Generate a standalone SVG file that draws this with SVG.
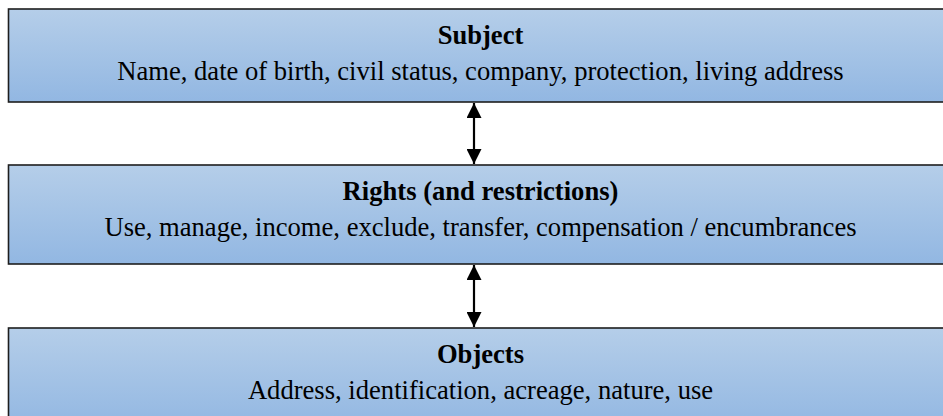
<svg xmlns="http://www.w3.org/2000/svg" width="943" height="416" viewBox="0 0 943 416">
  <defs>
    <linearGradient id="fill" x1="0" y1="0" x2="0" y2="1">
      <stop offset="0" stop-color="#b5cee9"/>
      <stop offset="1" stop-color="#92b7e2"/>
    </linearGradient>
    <marker id="ah" viewBox="0 0 16 15" refX="15" refY="7.5" markerWidth="16" markerHeight="15" markerUnits="userSpaceOnUse" orient="auto-start-reverse">
      <path d="M0,0 L15,7.5 L0,15 Z" fill="#000"/>
    </marker>
    <style>
      .box { fill: url(#fill); stroke: #1e1e1e; stroke-width: 1.6; }
      .t { font-family: "Liberation Serif", "Times New Roman", serif; font-size: 26.6px; fill: #000; text-anchor: middle; }
      .b { font-weight: bold; }
      .conn { stroke: #000; stroke-width: 2.2; fill: none; }
    </style>
  </defs>
  <rect width="943" height="416" fill="#fff"/>
  <g id="subject">
    <rect class="box" x="8.5" y="9" width="945" height="93"/>
    <text class="t b" x="480.5" y="44">Subject</text>
    <text class="t" x="480.5" y="80">Name, date of birth, civil status, company, protection, living address</text>
  </g>
  <g id="rights">
    <rect class="box" x="8.5" y="165" width="945" height="99"/>
    <text class="t b" x="480.5" y="200">Rights (and restrictions)</text>
    <text class="t" x="480.5" y="236">Use, manage, income, exclude, transfer, compensation / encumbrances</text>
  </g>
  <g id="objects">
    <rect class="box" x="8.5" y="328" width="945" height="100"/>
    <text class="t b" x="480.5" y="363">Objects</text>
    <text class="t" x="480.5" y="399">Address, identification, acreage, nature, use</text>
  </g>
  <g id="connectors">
    <line class="conn" x1="474" y1="103" x2="474" y2="164" marker-start="url(#ah)" marker-end="url(#ah)"/>
    <line class="conn" x1="474" y1="265" x2="474" y2="327" marker-start="url(#ah)" marker-end="url(#ah)"/>
  </g>
</svg>
